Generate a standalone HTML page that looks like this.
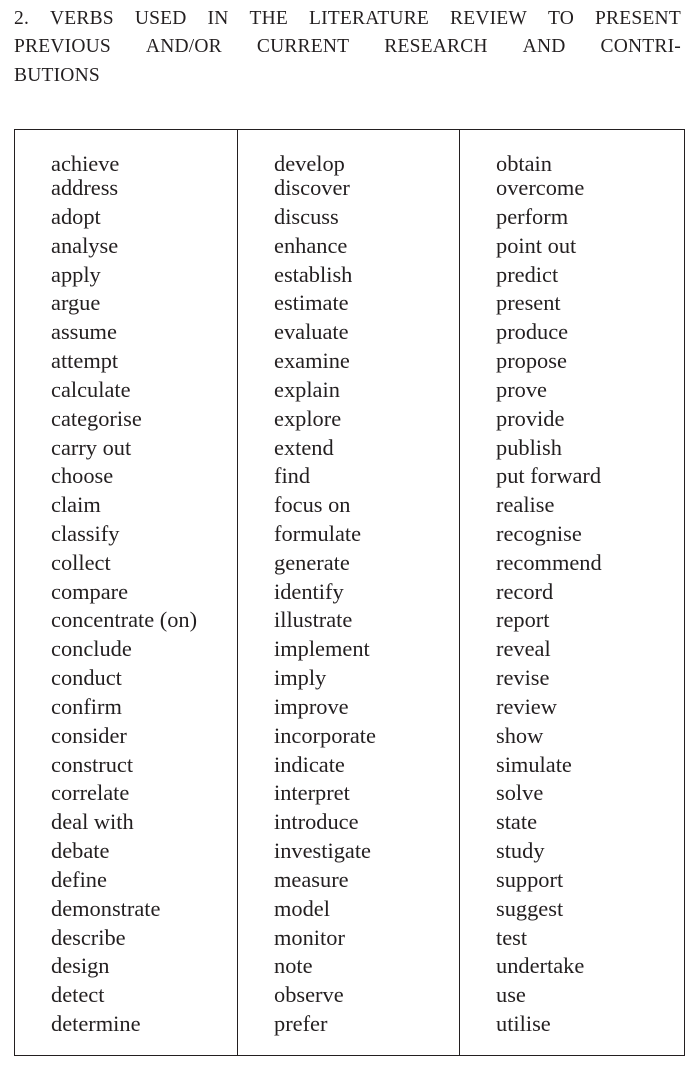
<!DOCTYPE html>
<html><head><meta charset="utf-8"><style>
body{margin:0;width:696px;height:1066px;background:#fff;position:relative;font-family:"Liberation Serif",serif;color:#231f20;overflow:hidden}
.h{position:absolute;left:14px;width:667px;font-size:19.5px;display:flex;justify-content:space-between;line-height:24px;letter-spacing:0.2px}
#box{position:absolute;left:14px;top:129px;width:669px;height:925px;border:1px solid #231f20}
.d{position:absolute;top:0;bottom:0;border-left:1px solid #231f20}
.c{position:absolute;font-size:22.4px;line-height:24px;white-space:nowrap}
</style></head><body>
<div class="h" style="top:7px"><span>2.</span><span>VERBS</span><span>USED</span><span>IN</span><span>THE</span><span>LITERATURE</span><span>REVIEW</span><span>TO</span><span>PRESENT</span></div>
<div class="h" style="top:35px"><span>PREVIOUS</span><span>AND/OR</span><span>CURRENT</span><span>RESEARCH</span><span>AND</span><span>CONTRI-</span></div>
<div class="h" style="top:64px"><span>BUTIONS</span></div>
<div id="box">
<div class="d" style="left:222px"></div>
<div class="d" style="left:444px"></div>
</div>
<script>
const col1=["achieve","address","adopt","analyse","apply","argue","assume","attempt","calculate","categorise","carry out","choose","claim","classify","collect","compare","concentrate (on)","conclude","conduct","confirm","consider","construct","correlate","deal with","debate","define","demonstrate","describe","design","detect","determine"];
const col2=["develop","discover","discuss","enhance","establish","estimate","evaluate","examine","explain","explore","extend","find","focus on","formulate","generate","identify","illustrate","implement","imply","improve","incorporate","indicate","interpret","introduce","investigate","measure","model","monitor","note","observe","prefer"];
const col3=["obtain","overcome","perform","point out","predict","present","produce","propose","prove","provide","publish","put forward","realise","recognise","recommend","record","report","reveal","revise","review","show","simulate","solve","state","study","support","suggest","test","undertake","use","utilise"];
const cols=[col1,col2,col3];const xs=[51,274,496];
cols.forEach((c,ci)=>c.forEach((w,i)=>{
const el=document.createElement('div');el.className='c';


const cy=i===0?164:(i===1?188:217+(i-2)*28.82);
el.style.left=xs[ci]+'px';el.style.top=(cy-12)+'px';el.textContent=w;document.body.appendChild(el);}));
</script>
</body></html>
